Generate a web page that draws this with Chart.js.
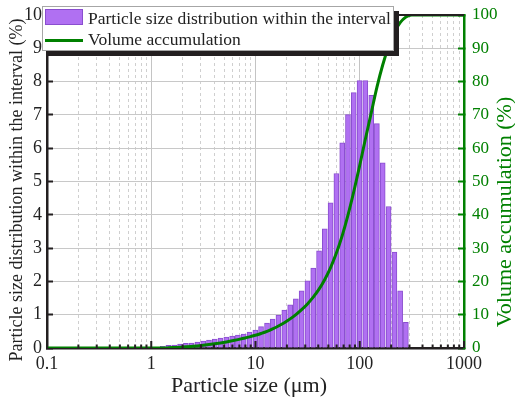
<!DOCTYPE html>
<html>
<head>
<meta charset="utf-8">
<script src="https://cdn.jsdelivr.net/npm/chart.js@4.4.1/dist/chart.umd.min.js"></script>
<style>
  body { margin: 0; background: #fff; }
  #wrap { position: relative; width: 515px; height: 399px; }
  #psdChart { position: absolute; left: 0; top: 0; }
  #legend {
    position: absolute; left: 42px; top: 6px; width: 350px; height: 43px;
    background: #fff; border: 1px solid #a6a6a6; box-shadow: 5px 5px 0 #231f20;
    font-family: "Liberation Serif", serif; font-size: 17.5px; color: #222;
  }
  #legend .sw { position: absolute; left: 2px; top: 2px; width: 38px; height: 16px; box-sizing: border-box; background: #b070f2; border: 1px solid #8a4ecf; }
  #legend .ln { position: absolute; left: 2px; top: 31.5px; width: 38px; height: 3px; background: #008000; }
  #legend .tx { position: absolute; left: 45px; white-space: nowrap; line-height: normal; }
</style>
</head>
<body>
<div id="wrap">
  <canvas id="psdChart" width="515" height="399"></canvas>
  <div id="legend">
    <div class="sw"></div><div class="tx" style="top:1px">Particle size distribution within the interval</div>
    <div class="ln"></div><div class="tx" style="top:22px">Volume accumulation</div>
  </div>
</div>
<script>
// Boyut sınıfları (µm) ve aralık içi dağılım (%)
const sizes = [1.29, 1.46, 1.66, 1.89, 2.15, 2.44, 2.77, 3.15, 3.58, 4.07, 4.62, 5.25, 5.97, 6.78, 7.71, 8.77, 9.96,
  11.3, 12.9, 14.6, 16.6, 18.9, 21.5, 24.4, 27.7, 31.5, 35.8, 40.7, 46.2, 52.5, 59.7, 67.9, 77.1, 87.6, 99.6,
  113, 129, 146, 166, 189, 215, 244, 277];
const intervalPct = [0.05, 0.08, 0.09, 0.12, 0.14, 0.15, 0.18, 0.21, 0.24, 0.27, 0.30, 0.33, 0.36, 0.39, 0.42, 0.48, 0.54,
  0.64, 0.75, 0.87, 0.99, 1.14, 1.30, 1.48, 1.72, 2.02, 2.40, 2.92, 3.58, 4.36, 5.24, 6.16, 7.01, 7.67, 8.03,
  8.03, 7.59, 6.74, 5.56, 4.25, 2.88, 1.72, 0.77];

// Kümülatif hacim eğrisi (%)
const cumSizes = [0.1, 1.13, 1.29, 1.46, 1.66, 1.89, 2.15, 2.44, 2.77, 3.15, 3.58, 4.07, 4.62, 5.25, 5.97, 6.78, 7.71, 8.77, 9.96,
  11.3, 12.9, 14.6, 16.6, 18.9, 21.5, 24.4, 27.7, 31.5, 35.8, 40.7, 46.2, 52.5, 59.7, 67.9, 77.1, 87.6, 99.6,
  113, 129, 146, 166, 189, 215, 244, 277, 315, 1000];
const cumPct = [0, 0, 0, 0.05, 0.13, 0.22, 0.34, 0.48, 0.63, 0.81, 1.02, 1.26, 1.53, 1.83, 2.16, 2.52, 2.91, 3.33, 3.81,
  4.35, 4.99, 5.74, 6.61, 7.60, 8.74, 10.04, 11.52, 13.24, 15.26, 17.66, 20.58, 24.16, 28.52, 33.76, 39.92, 46.93, 54.60,
  62.63, 70.66, 78.25, 84.99, 90.55, 94.80, 97.68, 99.40, 100, 100];

// Eksen etiketleri
const xMajorTicks = [0.1, 1, 10, 100, 1000];
const xTickValues = [];
xMajorTicks.slice(0, -1).forEach(d => {
  for (let m = 1; m <= 9; m++) xTickValues.push(+(m * d).toPrecision(3));
});
xTickValues.push(1000);

const serif = "Liberation Serif";
const black = "#231f20";
const green = "#008000";

// Ölçek kenar boşluklarını sıfırla, yerleşimi sabitle
function fixBox(size, key) {
  return s => {
    s[key] = size;
    s.paddingTop = 0; s.paddingBottom = 0; s.paddingLeft = 0; s.paddingRight = 0;
  };
}

// Başlıklar, üst çerçeve ve x ekseni iç çentikleri
const extras = {
  id: "extras",
  afterDraw(chart) {
    const { ctx, chartArea: a } = chart;
    const xs = chart.scales.x;
    ctx.save();
    ctx.strokeStyle = black;
    ctx.lineWidth = 2;
    ctx.beginPath();
    ctx.moveTo(a.left, a.top);
    ctx.lineTo(a.right, a.top);
    ctx.stroke();

    xTickValues.forEach(v => {
      const px = xs.getPixelForValue(v);
      const len = xMajorTicks.includes(v) ? 7 : 3.5;
      ctx.beginPath();
      ctx.moveTo(px, a.bottom);
      ctx.lineTo(px, a.bottom - len);
      ctx.stroke();
    });

    ctx.fillStyle = "#222";
    ctx.textAlign = "center";
    ctx.textBaseline = "middle";
    ctx.font = `22px "${serif}"`;
    ctx.fillText("Particle size (μm)", 249, 386);

    ctx.save();
    ctx.translate(17, 190);
    ctx.rotate(-Math.PI / 2);
    ctx.font = `18px "${serif}"`;
    ctx.fillText("Particle size distribution within the interval (%)", 0, 0);
    ctx.restore();

    ctx.save();
    ctx.translate(505, 212);
    ctx.rotate(-Math.PI / 2);
    ctx.fillStyle = green;
    ctx.font = `22px "${serif}"`;
    ctx.fillText("Volume accumulation (%)", 0, 0);
    ctx.restore();
    ctx.restore();
  }
};

new Chart(document.getElementById("psdChart"), {
  type: "bar",
  data: {
    datasets: [
      {
        type: "line",
        label: "Volume accumulation",
        data: cumSizes.map((x, i) => ({ x: x, y: cumPct[i] })),
        yAxisID: "y2",
        borderColor: green,
        borderWidth: 3,
        pointRadius: 0,
        cubicInterpolationMode: "monotone",
        order: 0,
      },
      {
        type: "bar",
        label: "Particle size distribution within the interval",
        data: sizes.map((x, i) => ({ x: x, y: intervalPct[i] })),
        yAxisID: "y",
        backgroundColor: "#b070f2",
        borderColor: "#8a4ecf",
        borderWidth: 1,
        barThickness: 5,
        order: 1,
      },
    ],
  },
  options: {
    responsive: false,
    animation: false,
    layout: { padding: { top: 15, left: 0, right: 0, bottom: 0 } },
    plugins: { legend: { display: false }, tooltip: { enabled: false } },
    scales: {
      x: {
        type: "logarithmic",
        position: "bottom",
        min: 0.1,
        max: 1000,
        offset: false,
        afterBuildTicks: s => { s.ticks = xTickValues.map(v => ({ value: v, major: xMajorTicks.includes(v) })); },
        afterFit: fixBox(51, "height"),
        grid: {
          offset: false,
          drawTicks: false,
          color: c => (c.tick && xMajorTicks.includes(c.tick.value) ? "#c4c4c4" : "#cfcfcf"),
          lineWidth: 1,
        },
        border: {
          color: black,
          width: 2.5,
          dash: c => (c.tick && !xMajorTicks.includes(c.tick.value) ? [3, 3] : []),
        },
        ticks: {
          autoSkip: false,
          maxRotation: 0,
          minRotation: 0,
          padding: 5,
          color: "#222",
          font: { family: serif, size: 18 },
          callback: v => (xMajorTicks.includes(v) ? String(v) : ""),
        },
      },
      y: {
        position: "left",
        min: 0,
        max: 10,
        afterFit: fixBox(47, "width"),
        grid: { color: "#c8c8c8", tickColor: black, tickLength: -6, tickWidth: 2 },
        border: { color: black, width: 2.5 },
        ticks: { stepSize: 1, padding: 11, color: "#222", font: { family: serif, size: 18 } },
      },
      y2: {
        position: "right",
        min: 0,
        max: 100,
        afterFit: fixBox(51, "width"),
        grid: { drawOnChartArea: false, tickColor: green, tickLength: -6, tickWidth: 2 },
        border: { color: green, width: 2.5 },
        ticks: { stepSize: 10, padding: 14, color: green, font: { family: serif, size: 17 } },
      },
    },
  },
  plugins: [extras],
});
</script>
</body>
</html>
